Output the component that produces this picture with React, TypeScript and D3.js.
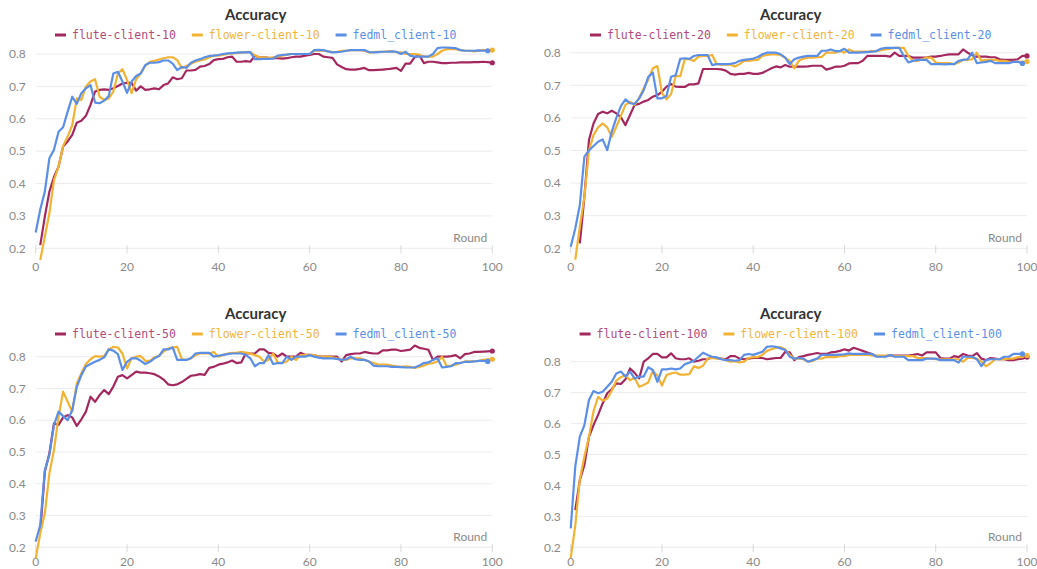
import React from "react";
import * as d3 from "d3";

// ---------- data (rounds 0..100, null = no value) ----------
const rounds = d3.range(0, 101);
const yTicks = [0.2, 0.3, 0.4, 0.5, 0.6, 0.7, 0.8];
const xTicks = [0, 20, 40, 60, 80, 100];
const seriesNames = ["flute", "flower", "fedml"];

const flute10 = [null,
  0.21, 0.298, 0.375, 0.42, 0.452, 0.514, 0.53, 0.55, 0.588, 0.594,
  0.609, 0.643, 0.684, 0.689, 0.691, 0.689, 0.694, 0.701, 0.709, 0.711,
  0.711, 0.687, 0.7, 0.689, 0.691, 0.694, 0.691, 0.704, 0.709, 0.728,
  0.722, 0.725, 0.749, 0.749, 0.751, 0.761, 0.763, 0.769, 0.781, 0.784,
  0.785, 0.79, 0.792, 0.776, 0.776, 0.778, 0.776, 0.794, 0.79, 0.79,
  0.788, 0.787, 0.787, 0.786, 0.787, 0.79, 0.792, 0.792, 0.795, 0.797,
  0.8, 0.8, 0.792, 0.79, 0.788, 0.768, 0.76, 0.753, 0.752, 0.752,
  0.754, 0.757, 0.75, 0.75, 0.751, 0.752, 0.753, 0.755, 0.757, 0.748,
  0.77, 0.77, 0.79, 0.797, 0.772, 0.776, 0.776, 0.774, 0.772, 0.772,
  0.773, 0.773, 0.774, 0.774, 0.774, 0.775, 0.775, 0.776, 0.775, 0.773];
const flower10 = [null,
  0.164, 0.236, 0.308, 0.41, 0.452, 0.516, 0.545, 0.58, 0.663, 0.658,
  0.7, 0.715, 0.722, 0.668, 0.658, 0.663, 0.684, 0.74, 0.753, 0.72,
  0.679, 0.722, 0.74, 0.763, 0.776, 0.779, 0.783, 0.787, 0.79, 0.79,
  0.781, 0.756, 0.763, 0.77, 0.776, 0.78, 0.783, 0.79, 0.795, 0.795,
  0.797, 0.8, 0.802, 0.803, 0.804, 0.806, 0.806, 0.796, 0.79, 0.79,
  0.788, 0.79, 0.792, 0.795, 0.798, 0.8, 0.8, 0.8, 0.8, 0.8,
  0.81, 0.81, 0.81, 0.808, 0.806, 0.807, 0.81, 0.81, 0.812, 0.812,
  0.812, 0.81, 0.805, 0.806, 0.807, 0.807, 0.808, 0.808, 0.806, 0.805,
  0.8, 0.8, 0.8, 0.798, 0.792, 0.792, 0.792, 0.8, 0.81, 0.815,
  0.815, 0.815, 0.812, 0.81, 0.81, 0.808, 0.81, 0.812, 0.812, 0.812];
const fedml10 = [0.249,
  0.32, 0.375, 0.478, 0.504, 0.56, 0.574, 0.622, 0.668, 0.646, 0.679,
  0.694, 0.704, 0.65, 0.648, 0.656, 0.67, 0.74, 0.745, 0.715, 0.68,
  0.715, 0.732, 0.74, 0.766, 0.773, 0.773, 0.775, 0.78, 0.78, 0.77,
  0.75, 0.76, 0.757, 0.773, 0.78, 0.784, 0.79, 0.794, 0.795, 0.797,
  0.8, 0.802, 0.803, 0.804, 0.805, 0.805, 0.806, 0.784, 0.784, 0.785,
  0.785, 0.786, 0.795, 0.797, 0.798, 0.8, 0.8, 0.8, 0.8, 0.8,
  0.812, 0.813, 0.812, 0.808, 0.805, 0.806, 0.807, 0.81, 0.812, 0.812,
  0.812, 0.812, 0.806, 0.805, 0.806, 0.807, 0.807, 0.808, 0.807, 0.8,
  0.807, 0.795, 0.792, 0.792, 0.792, 0.792, 0.8, 0.818, 0.82, 0.82,
  0.819, 0.818, 0.812, 0.81, 0.81, 0.81, 0.811, 0.81, 0.81];

const flute20 = [null, null,
  0.215, 0.358, 0.532, 0.583, 0.612, 0.619, 0.614, 0.622, 0.614,
  0.602, 0.578, 0.609, 0.64, 0.643, 0.65, 0.655, 0.665, 0.67, 0.68,
  0.696, 0.704, 0.696, 0.695, 0.695, 0.703, 0.703, 0.706, 0.75, 0.75,
  0.75, 0.75, 0.749, 0.745, 0.735, 0.733, 0.735, 0.735, 0.738, 0.735,
  0.735, 0.738, 0.745, 0.752, 0.758, 0.755, 0.762, 0.757, 0.757, 0.757,
  0.757, 0.758, 0.76, 0.76, 0.76, 0.748, 0.752, 0.757, 0.757, 0.76,
  0.767, 0.768, 0.768, 0.775, 0.79, 0.79, 0.79, 0.79, 0.79, 0.788,
  0.8, 0.79, 0.79, 0.79, 0.785, 0.785, 0.785, 0.785, 0.788, 0.788,
  0.79, 0.793, 0.795, 0.795, 0.795, 0.81, 0.8, 0.792, 0.788, 0.788,
  0.788, 0.786, 0.786, 0.78, 0.778, 0.778, 0.778, 0.78, 0.79, 0.79];
const flower20 = [null,
  0.165, 0.266, 0.358, 0.5, 0.547, 0.571, 0.583, 0.571, 0.542, 0.573,
  0.606, 0.64, 0.65, 0.64, 0.66, 0.69, 0.718, 0.752, 0.759, 0.677,
  0.657, 0.673, 0.728, 0.728, 0.78, 0.78, 0.775, 0.788, 0.79, 0.79,
  0.793, 0.765, 0.763, 0.763, 0.763, 0.758, 0.765, 0.775, 0.775, 0.777,
  0.778, 0.79, 0.793, 0.795, 0.795, 0.793, 0.785, 0.775, 0.752, 0.775,
  0.782, 0.785, 0.785, 0.786, 0.787, 0.8, 0.8, 0.8, 0.805, 0.8,
  0.81, 0.803, 0.803, 0.803, 0.803, 0.805, 0.805, 0.808, 0.81, 0.812,
  0.815, 0.815, 0.815, 0.79, 0.775, 0.775, 0.78, 0.785, 0.785, 0.77,
  0.768, 0.768, 0.768, 0.765, 0.77, 0.778, 0.778, 0.78, 0.8, 0.775,
  0.778, 0.778, 0.778, 0.775, 0.775, 0.773, 0.772, 0.772, 0.772, 0.773];
const fedml20 = [0.205,
  0.261, 0.333, 0.481, 0.5, 0.514, 0.527, 0.534, 0.501, 0.558, 0.6,
  0.636, 0.657, 0.645, 0.643, 0.66, 0.685, 0.726, 0.739, 0.66, 0.66,
  0.667, 0.726, 0.731, 0.781, 0.783, 0.781, 0.79, 0.793, 0.793, 0.793,
  0.762, 0.765, 0.765, 0.765, 0.766, 0.768, 0.775, 0.778, 0.78, 0.782,
  0.787, 0.795, 0.8, 0.8, 0.8, 0.795, 0.785, 0.765, 0.78, 0.785,
  0.788, 0.79, 0.79, 0.79, 0.806, 0.806, 0.81, 0.805, 0.805, 0.812,
  0.8, 0.8, 0.8, 0.801, 0.802, 0.803, 0.805, 0.812, 0.815, 0.815,
  0.815, 0.815, 0.79, 0.77, 0.775, 0.778, 0.778, 0.778, 0.765, 0.765,
  0.765, 0.764, 0.765, 0.765, 0.775, 0.778, 0.78, 0.8, 0.768, 0.77,
  0.772, 0.775, 0.768, 0.768, 0.768, 0.768, 0.772, 0.772, 0.767];

const flute50 = [null,
  0.25, 0.438, 0.496, 0.59, 0.585, 0.609, 0.616, 0.609, 0.582, 0.603,
  0.627, 0.674, 0.658, 0.679, 0.695, 0.682, 0.706, 0.737, 0.742, 0.732,
  0.742, 0.753, 0.75, 0.75, 0.748, 0.745, 0.738, 0.728, 0.713, 0.71,
  0.713, 0.72, 0.73, 0.74, 0.742, 0.745, 0.743, 0.765, 0.768, 0.775,
  0.778, 0.782, 0.788, 0.78, 0.782, 0.81, 0.81, 0.81, 0.823, 0.823,
  0.812, 0.81, 0.8, 0.81, 0.8, 0.8, 0.8, 0.812, 0.806, 0.806,
  0.805, 0.8, 0.8, 0.8, 0.8, 0.8, 0.785, 0.805, 0.808, 0.81,
  0.81, 0.815, 0.812, 0.81, 0.81, 0.82, 0.82, 0.822, 0.822, 0.818,
  0.82, 0.822, 0.835, 0.828, 0.825, 0.822, 0.79, 0.8, 0.8, 0.8,
  0.802, 0.805, 0.795, 0.808, 0.81, 0.815, 0.815, 0.816, 0.817, 0.818];
const flower50 = [0.165,
  0.244, 0.307, 0.433, 0.506, 0.611, 0.69, 0.658, 0.627, 0.716, 0.748,
  0.777, 0.792, 0.802, 0.8, 0.802, 0.823, 0.831, 0.829, 0.81, 0.763,
  0.795, 0.8, 0.802, 0.787, 0.787, 0.798, 0.802, 0.816, 0.826, 0.829,
  0.831, 0.792, 0.79, 0.795, 0.805, 0.81, 0.81, 0.81, 0.815, 0.8,
  0.805, 0.81, 0.812, 0.812, 0.815, 0.813, 0.81, 0.805, 0.8, 0.785,
  0.79, 0.81, 0.782, 0.78, 0.785, 0.8, 0.79, 0.805, 0.805, 0.806,
  0.805, 0.8, 0.8, 0.8, 0.798, 0.795, 0.79, 0.79, 0.795, 0.795,
  0.795, 0.79, 0.785, 0.78, 0.775, 0.775, 0.775, 0.772, 0.77, 0.768,
  0.77, 0.768, 0.765, 0.768, 0.772, 0.778, 0.78, 0.785, 0.8, 0.77,
  0.772, 0.775, 0.78, 0.785, 0.785, 0.785, 0.787, 0.79, 0.792, 0.792];
const fedml50 = [0.218,
  0.27, 0.443, 0.49, 0.585, 0.627, 0.613, 0.6, 0.632, 0.705, 0.742,
  0.769, 0.777, 0.784, 0.79, 0.798, 0.823, 0.819, 0.808, 0.758, 0.784,
  0.795, 0.795, 0.787, 0.777, 0.784, 0.795, 0.802, 0.823, 0.823, 0.829,
  0.79, 0.79, 0.79, 0.795, 0.81, 0.812, 0.812, 0.812, 0.8, 0.803,
  0.806, 0.808, 0.81, 0.81, 0.81, 0.806, 0.795, 0.77, 0.78, 0.78,
  0.805, 0.777, 0.78, 0.78, 0.8, 0.79, 0.8, 0.8, 0.8, 0.805,
  0.8, 0.797, 0.795, 0.795, 0.795, 0.793, 0.79, 0.792, 0.8, 0.792,
  0.79, 0.79, 0.785, 0.772, 0.77, 0.77, 0.77, 0.768, 0.768, 0.767,
  0.766, 0.766, 0.766, 0.772, 0.78, 0.782, 0.79, 0.795, 0.766, 0.768,
  0.77, 0.78, 0.78, 0.784, 0.784, 0.785, 0.787, 0.787, 0.785];

const flute100 = [null,
  0.32, 0.417, 0.466, 0.557, 0.595, 0.628, 0.665, 0.698, 0.711, 0.73,
  0.728, 0.743, 0.778, 0.764, 0.746, 0.8, 0.811, 0.825, 0.825, 0.814,
  0.814, 0.827, 0.811, 0.808, 0.808, 0.811, 0.8, 0.803, 0.808, 0.808,
  0.815, 0.812, 0.81, 0.808, 0.818, 0.818, 0.81, 0.808, 0.81, 0.812,
  0.812, 0.812, 0.808, 0.81, 0.812, 0.812, 0.832, 0.83, 0.805, 0.815,
  0.818, 0.822, 0.825, 0.828, 0.825, 0.825, 0.83, 0.832, 0.835, 0.84,
  0.836, 0.845, 0.84, 0.835, 0.83, 0.825, 0.818, 0.818, 0.818, 0.82,
  0.82, 0.82, 0.82, 0.82, 0.822, 0.825, 0.82, 0.83, 0.83, 0.83,
  0.812, 0.81, 0.81, 0.818, 0.815, 0.825, 0.82, 0.818, 0.828, 0.81,
  0.805, 0.812, 0.81, 0.808, 0.808, 0.805, 0.805, 0.808, 0.81, 0.815];
const flower100 = [0.165,
  0.27, 0.42, 0.493, 0.557, 0.64, 0.686, 0.674, 0.68, 0.706, 0.739,
  0.75, 0.757, 0.74, 0.748, 0.719, 0.725, 0.733, 0.77, 0.755, 0.723,
  0.757, 0.762, 0.765, 0.758, 0.758, 0.76, 0.785, 0.78, 0.787, 0.81,
  0.812, 0.81, 0.81, 0.805, 0.8, 0.802, 0.798, 0.8, 0.812, 0.815,
  0.815, 0.822, 0.835, 0.84, 0.845, 0.847, 0.84, 0.822, 0.81, 0.81,
  0.808, 0.8, 0.802, 0.81, 0.81, 0.815, 0.815, 0.815, 0.818, 0.818,
  0.822, 0.822, 0.822, 0.822, 0.822, 0.82, 0.82, 0.82, 0.82, 0.82,
  0.818, 0.818, 0.818, 0.818, 0.818, 0.812, 0.812, 0.812, 0.81, 0.808,
  0.808, 0.808, 0.808, 0.808, 0.808, 0.8, 0.812, 0.812, 0.81, 0.8,
  0.785, 0.795, 0.808, 0.808, 0.808, 0.81, 0.81, 0.815, 0.815, 0.82];
const fedml100 = [0.261,
  0.461, 0.558, 0.595, 0.676, 0.705, 0.698, 0.703, 0.719, 0.735, 0.762,
  0.768, 0.752, 0.768, 0.746, 0.752, 0.752, 0.782, 0.773, 0.735, 0.775,
  0.775, 0.778, 0.775, 0.778, 0.792, 0.797, 0.803, 0.816, 0.829, 0.822,
  0.816, 0.814, 0.808, 0.805, 0.805, 0.803, 0.805, 0.822, 0.825, 0.822,
  0.827, 0.832, 0.848, 0.85, 0.848, 0.843, 0.838, 0.816, 0.81, 0.812,
  0.81, 0.8, 0.805, 0.81, 0.822, 0.822, 0.822, 0.822, 0.823, 0.824,
  0.827, 0.825, 0.825, 0.825, 0.825, 0.825, 0.816, 0.816, 0.816, 0.822,
  0.816, 0.816, 0.816, 0.805, 0.805, 0.805, 0.805, 0.81, 0.81, 0.81,
  0.805, 0.805, 0.805, 0.805, 0.797, 0.816, 0.816, 0.816, 0.808, 0.786,
  0.805, 0.808, 0.808, 0.808, 0.816, 0.816, 0.825, 0.825, 0.825];

const clientCounts = ["10", "20", "50", "100"];
const dataByPanel = [
  [flute10, flower10, fedml10],
  [flute20, flower20, fedml20],
  [flute50, flower50, fedml50],
  [flute100, flower100, fedml100],
];

// ---------- layout / style ----------
const W = 1037;
const H = 569;
const colors = ["#a3285f", "#f2b233", "#5b8fe6"];
const legendColors = ["#b24a7c", "#f0b43c", "#5b8fe6"];
const panels = [
  { x0: 35.7, x1: 492.3, y8: 54, y2: 248.3, titleY: 20, legY: 35, xlDy: 23 },
  { x0: 570.7, x1: 1027, y8: 52.7, y2: 248.3, titleY: 20, legY: 35, xlDy: 23 },
  { x0: 35.7, x1: 492.3, y8: 356.7, y2: 547.3, titleY: 319, legY: 334, xlDy: 18.5 },
  { x0: 570.7, x1: 1027, y8: 361.7, y2: 547.3, titleY: 319, legY: 334, xlDy: 18.5 },
];
const sansFont = "Lato, 'Noto Sans', sans-serif";
const monoFont = "'DejaVu Sans Mono', monospace";
const legFontSize = 11.5;
const charW = legFontSize * 0.602;

function legendLabel(series: number, count: string) {
  if (series === 0) return `flute-client-${count}`;
  if (series === 1) return `flower-client-${count}`;
  return `fedml_client-${count}`;
}

function Panel({ idx }: { idx: number }) {
  const p = panels[idx];
  const x = d3.scaleLinear().domain([0, 100]).range([p.x0, p.x1]);
  const y = d3.scaleLinear().domain([0.2, 0.8]).range([p.y2, p.y8]);
  const series = dataByPanel[idx];
  const count = clientCounts[idx];
  const line = d3
    .line<number | null>()
    .defined((d) => d != null)
    .x((_, i) => x(rounds[i]))
    .y((d) => y(d as number));

  // legend layout
  const markerW = 11;
  const items = seriesNames.map((_, s) => {
    const label = legendLabel(s, count);
    return { label, w: markerW + 6 + label.length * charW };
  });
  const gap = 16;
  const totalW = items.reduce((a, b) => a + b.w, 0) + gap * (items.length - 1);
  const cx = p.x0 + 220;
  let cur = cx - totalW / 2;
  const legendPos = items.map((it) => {
    const pos = cur;
    cur += it.w + gap;
    return pos;
  });

  return (
    <g>
      {yTicks.map((t) => (
        <line key={"g" + t} x1={p.x0} x2={p.x1} y1={y(t)} y2={y(t)} stroke="#ececec" strokeWidth={1} />
      ))}
      {xTicks.map((t) => (
        <line key={"xt" + t} x1={x(t)} x2={x(t)} y1={p.y2 - 3} y2={p.y2 + 5} stroke="#d8d8d8" strokeWidth={1} />
      ))}
      {yTicks.map((t) => (
        <text key={"yl" + t} x={p.x0 - 10} y={y(t)} dy="0.35em" textAnchor="end" fontFamily={sansFont} fontSize={12} fill="#8a8a8a">
          {t.toFixed(1)}
        </text>
      ))}
      {xTicks.map((t) => (
        <text key={"xl" + t} x={x(t)} y={p.y2 + p.xlDy} textAnchor="middle" fontFamily={sansFont} fontSize={12} fill="#8a8a8a">
          {t}
        </text>
      ))}
      <text x={p.x1 - 5} y={p.y2 - 6} textAnchor="end" fontFamily={sansFont} fontSize={12} fill="#8a8a8a">
        Round
      </text>
      <text x={cx} y={p.titleY} textAnchor="middle" fontFamily={sansFont} fontSize={15} fontWeight={700} fill="#333">
        Accuracy
      </text>
      {items.map((it, s) => (
        <g key={"leg" + s}>
          <line
            x1={legendPos[s]}
            x2={legendPos[s] + markerW}
            y1={p.legY}
            y2={p.legY}
            stroke={colors[s]}
            strokeWidth={3}
          />
          <text
            x={legendPos[s] + markerW + 6}
            y={p.legY}
            dy="0.35em"
            fontFamily={monoFont}
            fontSize={legFontSize}
            fill={legendColors[s]}
          >
            {it.label}
          </text>
        </g>
      ))}
      {series.map((vals, s) => (
        <path key={"l" + s} d={line(vals) || ""} fill="none" stroke={colors[s]} strokeWidth={2.2} strokeLinejoin="round" />
      ))}
      {series.map((vals, s) => {
        const last = vals.length - 1;
        return <circle key={"d" + s} cx={x(rounds[last])} cy={y(vals[last] as number)} r={2.6} fill={colors[s]} />;
      })}
    </g>
  );
}

export default function App() {
  return (
    <svg
      width={W}
      height={H}
      viewBox={`0 0 ${W} ${H}`}
      style={{ position: "absolute", left: 0, top: 0, background: "#fff" }}
    >
      <rect width={W} height={H} fill="#fff" />
      {panels.map((_, i) => (
        <Panel key={i} idx={i} />
      ))}
    </svg>
  );
}
